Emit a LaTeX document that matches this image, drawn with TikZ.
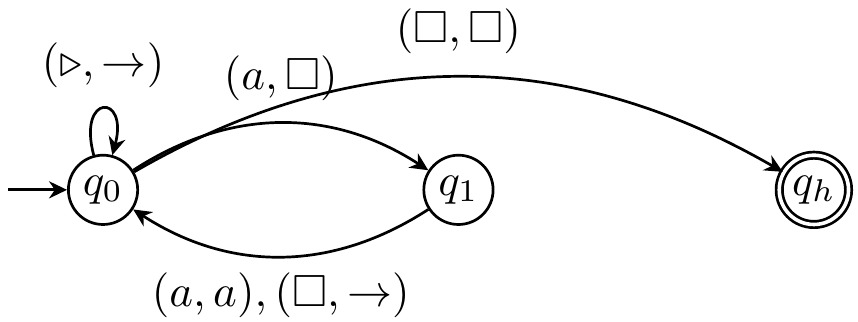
\documentclass[tikz,border=0pt]{standalone}
\usepackage{amsmath,amssymb}
\usepackage{tikz}
\usetikzlibrary{arrows.meta,positioning}

\begin{document}
\begin{tikzpicture}[
  node distance=79pt, on grid,
  state/.style={circle, draw, semithick, minimum size=15.4pt, inner sep=0pt},
  halt/.style={state, double, double distance=0.8pt},
  arr/.style={-{Stealth[length=4pt, width=3.8pt, inset=1.3pt]}, semithick}]
  \useasboundingbox (-22.9pt,-29.3pt) rectangle (167.8pt,42.2pt);
  \node[state] (q0) at (0,0) {$q_0$};
  \node[state, right=of q0] (q1) {$q_1$};
  \node[halt, right=of q1] (qh) {$q_h$};
  \coordinate[left=21.1pt of q0] (start);
  \draw[arr] (start) -- (q0);
  \draw[arr] (q0) to[out=105, in=75, looseness=8, min distance=5mm]
    node[above=1pt] {$(\triangleright,\rightarrow)$} (q0);
  \draw[arr] (q0) to[bend left=33] node[above=1.3pt] {$(a,\square)$} (q1);
  \draw[arr] (q1) to[bend left=33] node[below] {$(a,a),(\square,\rightarrow)$} (q0);
  \draw[arr] (q0) to[bend left=30] node[above=1.5pt] {$(\square,\square)$} (qh);
\end{tikzpicture}
\end{document}
